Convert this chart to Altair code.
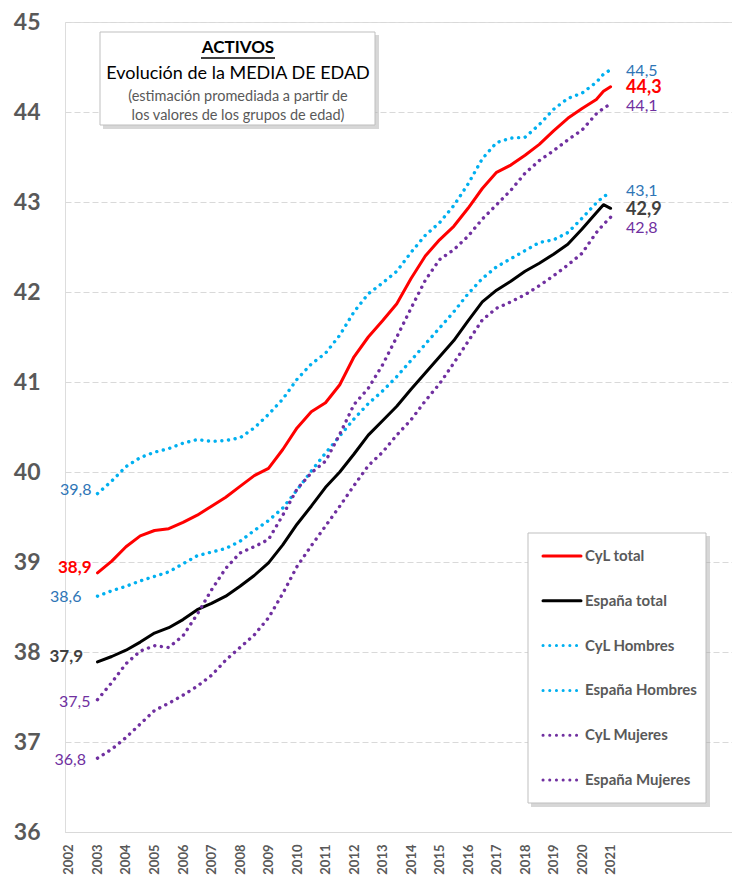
import altair as alt
import pandas as pd

# ---------------- data ----------------
periods = [2003.0, 2003.5, 2004.0, 2004.5, 2005.0, 2005.5, 2006.0, 2006.5,
           2007.0, 2007.5, 2008.0, 2008.5, 2009.0, 2009.5, 2010.0, 2010.5,
           2011.0, 2011.5, 2012.0, 2012.5, 2013.0, 2013.5, 2014.0, 2014.5,
           2015.0, 2015.5, 2016.0, 2016.5, 2017.0, 2017.5, 2018.0, 2018.5,
           2019.0, 2019.5, 2020.0, 2020.5, 2020.75, 2021.0]

cyl_total = [38.88, 39.01, 39.17, 39.29, 39.35, 39.37, 39.44, 39.52, 39.62, 39.72,
             39.84, 39.96, 40.04, 40.25, 40.49, 40.67, 40.77, 40.97, 41.28, 41.50,
             41.68, 41.87, 42.15, 42.40, 42.58, 42.73, 42.93, 43.15, 43.33, 43.41,
             43.52, 43.64, 43.79, 43.93, 44.04, 44.14, 44.23, 44.28]
espana_total = [37.89, 37.95, 38.02, 38.11, 38.21, 38.27, 38.36, 38.47, 38.54, 38.62,
                38.73, 38.85, 38.99, 39.19, 39.42, 39.62, 39.83, 40.00, 40.20, 40.41,
                40.57, 40.73, 40.92, 41.10, 41.28, 41.46, 41.68, 41.89, 42.02, 42.12,
                42.23, 42.32, 42.42, 42.53, 42.70, 42.88, 42.97, 42.93]
cyl_hombres = [39.76, 39.90, 40.06, 40.16, 40.22, 40.26, 40.32, 40.36, 40.34, 40.35,
               40.38, 40.49, 40.64, 40.81, 41.03, 41.20, 41.32, 41.52, 41.78, 41.98,
               42.10, 42.23, 42.44, 42.63, 42.77, 42.96, 43.20, 43.48, 43.66, 43.71,
               43.72, 43.86, 44.03, 44.15, 44.21, 44.33, 44.42, 44.47]
espana_hombres = [38.62, 38.68, 38.73, 38.79, 38.84, 38.89, 38.98, 39.07, 39.11, 39.15,
                  39.23, 39.35, 39.46, 39.60, 39.80, 40.01, 40.21, 40.40, 40.59, 40.76,
                  40.90, 41.06, 41.24, 41.42, 41.60, 41.78, 41.98, 42.15, 42.28, 42.37,
                  42.46, 42.55, 42.58, 42.66, 42.82, 42.99, 43.06, 43.10]
cyl_mujeres = [37.47, 37.66, 37.87, 38.01, 38.07, 38.05, 38.18, 38.42, 38.69, 38.93,
               39.10, 39.17, 39.25, 39.52, 39.81, 39.99, 40.12, 40.42, 40.75, 40.93,
               41.19, 41.50, 41.82, 42.13, 42.36, 42.47, 42.62, 42.81, 42.97, 43.13,
               43.32, 43.46, 43.57, 43.69, 43.80, 43.98, 44.04, 44.09]
espana_mujeres = [36.82, 36.92, 37.05, 37.20, 37.35, 37.43, 37.52, 37.62, 37.74, 37.91,
                  38.05, 38.19, 38.38, 38.65, 38.95, 39.18, 39.40, 39.62, 39.85, 40.07,
                  40.22, 40.41, 40.58, 40.79, 40.98, 41.21, 41.45, 41.69, 41.82, 41.89,
                  41.97, 42.07, 42.18, 42.30, 42.43, 42.66, 42.75, 42.83]

series_names = ["CyL total", "España total", "CyL Hombres", "España Hombres",
                "CyL Mujeres", "España Mujeres"]
series_values = [cyl_total, espana_total, cyl_hombres, espana_hombres,
                 cyl_mujeres, espana_mujeres]
year_ticks = [2002, 2003, 2004, 2005, 2006, 2007, 2008, 2009, 2010, 2011,
              2012, 2013, 2014, 2015, 2016, 2017, 2018, 2019, 2020, 2021]
y_ticks = [36, 37, 38, 39, 40, 41, 42, 43, 44, 45]

title_lines = ["ACTIVOS", "Evolución de la MEDIA DE EDAD",
               "(estimación promediada a partir de",
               "los valores de los grupos de edad)"]

# ---------------- styles ----------------
line_colors = ["#FF0000", "#000000", "#00B0F0", "#00B0F0", "#7030A0", "#7030A0"]
label_colors = ["#FF0000", "#404040", "#2E75B6", "#2E75B6", "#7030A0", "#7030A0"]
is_dotted = [False, False, True, True, True, True]
is_bold = [True, True, False, False, False, False]
start_size = [17, 17, 16, 16, 16, 16]
end_size = [18, 18, 16, 16, 16, 16]
start_dx_px = [-6, -14.5, -6, -16, -7, -11.5]
start_dy_px = [-4.8, -5.2, -3.6, 0.5, 2, 1.8]
end_dx_px = [15.5, 15.5, 15.5, 15.5, 15.5, 15.5]
end_dy_px = [1.2, 1.2, 1.3, -2, 2.1, 10.7]

FONT = "Lato"
GRAY = "#595959"
W, H = 667, 810
X_DOMAIN = [2001.86, 2025.26]
Y_DOMAIN = [36, 45]
PX_PER_YEAR = W / (X_DOMAIN[1] - X_DOMAIN[0])
PX_PER_UNIT = H / (Y_DOMAIN[1] - Y_DOMAIN[0])
DOT = [0.1, 6.6]
SOLID = [1, 0]

# ---------------- tables ----------------
rows = []
for name, vals, dot in zip(series_names, series_values, is_dotted):
    for p, v in zip(periods, vals):
        rows.append({"year": p, "value": v, "series": name, "dotted": dot})
df = pd.DataFrame(rows)

lab = []
for i, name in enumerate(series_names):
    vals = series_values[i]
    for side, idx, dx, dy, fs in (("start", 0, start_dx_px[i], start_dy_px[i], start_size[i]),
                                  ("end", -1, end_dx_px[i], end_dy_px[i], end_size[i])):
        v = vals[idx]
        lab.append({
            "lx": periods[idx] + dx / PX_PER_YEAR,
            "ly": v - dy / PX_PER_UNIT,
            "text": f"{round(v, 1):.1f}".replace(".", ","),
            "fillc": label_colors[i],
            "fs": fs,
            "bold": is_bold[i],
            "side": side,
        })
labels = pd.DataFrame(lab)

legend_df = pd.DataFrame({"series": series_names, "row": list(range(len(series_names)))})
one = pd.DataFrame({"k": [0]})
title_df = pd.DataFrame({"line": list(range(len(title_lines))), "text": title_lines})

# ---------------- scales / axes ----------------
xs = alt.Scale(domain=X_DOMAIN, nice=False, zero=False)
ys = alt.Scale(domain=Y_DOMAIN, nice=False, zero=False)
xaxis = alt.Axis(values=year_ticks, format="d", title=None, grid=False, ticks=False,
                 labelAngle=270, labelFont=FONT, labelFontSize=13, labelFontWeight="bold",
                 labelColor=GRAY, labelPadding=12, domainColor="#d9d9d9", domainWidth=1)
yaxis = alt.Axis(values=y_ticks, title=None, grid=True, gridColor="#d9d9d9",
                 gridDash=[6, 3], gridWidth=1, ticks=False, domain=False,
                 labelFont=FONT, labelFontSize=23, labelFontWeight="bold",
                 labelColor=GRAY, labelPadding=25)
color_scale = alt.Scale(domain=series_names, range=line_colors)
dash_scale = alt.Scale(domain=series_names,
                       range=[DOT if d else SOLID for d in is_dotted])

X = alt.X("year:Q", scale=xs, axis=xaxis)
Y = alt.Y("value:Q", scale=ys, axis=yaxis)

solid_lines = alt.Chart(df).transform_filter("!datum.dotted").mark_line(
    strokeWidth=3, strokeCap="round", strokeJoin="round"
).encode(x=X, y=Y, color=alt.Color("series:N", scale=color_scale, legend=None))

dotted_lines = alt.Chart(df).transform_filter("datum.dotted").mark_line(
    strokeWidth=3.4, strokeCap="round", strokeDash=DOT
).encode(x=X, y=Y, color=alt.Color("series:N", scale=color_scale, legend=None),
         detail="series:N")

def label_layer(side, bold):
    return alt.Chart(labels).transform_filter(
        f"datum.side == '{side}' && {'datum.bold' if bold else '!datum.bold'}"
    ).mark_text(
        font=FONT, fontWeight="bold" if bold else "normal",
        align="right" if side == "start" else "left", baseline="middle"
    ).encode(
        x=alt.X("lx:Q", scale=xs, axis=xaxis),
        y=alt.Y("ly:Q", scale=ys, axis=yaxis),
        text="text:N",
        fill=alt.Fill("fillc:N", scale=None),
        size=alt.Size("fs:Q", scale=None),
    )

# title box
tb_shadow = alt.Chart(one).mark_rect(fill="#a6a6a6", opacity=0.45).encode(
    x=alt.value(38), x2=alt.value(314), y=alt.value(13), y2=alt.value(107))
tb_box = alt.Chart(one).mark_rect(fill="white", stroke="#bfbfbf", strokeWidth=1).encode(
    x=alt.value(35), x2=alt.value(310), y=alt.value(10), y2=alt.value(103))
t_head = alt.Chart(title_df).transform_filter("datum.line == 0").mark_text(
    font=FONT, fontSize=17, fontWeight="bold", color="black", baseline="middle"
).encode(x=alt.value(173), y=alt.value(26), text="text:N")
t_under = alt.Chart(one).mark_rule(color="black", strokeWidth=1.3).encode(
    x=alt.value(136), x2=alt.value(210), y=alt.value(36))
t_sub = alt.Chart(title_df).transform_filter("datum.line == 1").mark_text(
    font=FONT, fontSize=18, color="black", baseline="middle"
).encode(x=alt.value(173), y=alt.value(52), text="text:N")
t_note1 = alt.Chart(title_df).transform_filter("datum.line == 2").mark_text(
    font=FONT, fontSize=14.5, color=GRAY, baseline="middle"
).encode(x=alt.value(173), y=alt.value(75), text="text:N")
t_note2 = alt.Chart(title_df).transform_filter("datum.line == 3").mark_text(
    font=FONT, fontSize=14.5, color=GRAY, baseline="middle"
).encode(x=alt.value(173), y=alt.value(94), text="text:N")

main = alt.layer(
    solid_lines, dotted_lines,
    label_layer("start", True), label_layer("start", False),
    label_layer("end", True), label_layer("end", False),
    tb_shadow, tb_box, t_head, t_under, t_sub, t_note1, t_note2,
)

# legend (drawn by hand)
ly_scale = alt.Scale(domain=[0, 5], range=[534, 758], nice=False, zero=False)
lg_shadow = alt.Chart(one).mark_rect(fill="#a6a6a6", opacity=0.45).encode(
    x=alt.value(466), x2=alt.value(645), y=alt.value(514), y2=alt.value(785))
lg_box = alt.Chart(one).mark_rect(fill="white", stroke="#bfbfbf", strokeWidth=1).encode(
    x=alt.value(463), x2=alt.value(641), y=alt.value(511), y2=alt.value(781))
lg_lines = alt.Chart(legend_df).mark_rule(strokeWidth=3, strokeCap="round").encode(
    x=alt.value(478), x2=alt.value(516),
    y=alt.Y("row:Q", scale=ly_scale, axis=None),
    color=alt.Color("series:N", scale=color_scale, legend=None),
    strokeDash=alt.StrokeDash("series:N", scale=dash_scale, legend=None),
)
lg_text = alt.Chart(legend_df).mark_text(
    font=FONT, fontSize=15, fontWeight="bold", color=GRAY, align="left", baseline="middle"
).encode(x=alt.value(520), y=alt.Y("row:Q", scale=ly_scale, axis=None), text="series:N")

legend = alt.layer(lg_shadow, lg_box, lg_lines, lg_text)

chart = alt.layer(main, legend).resolve_scale(
    y="independent", x="independent"
).properties(
    width=W, height=H,
    autosize=alt.AutoSizeParams(type="none"),
    padding={"left": 57, "top": 14, "right": 0, "bottom": 50},
).configure_view(stroke=None).configure(font=FONT)

chart.save("out.html", embed_options={"renderer": "svg", "actions": False})
